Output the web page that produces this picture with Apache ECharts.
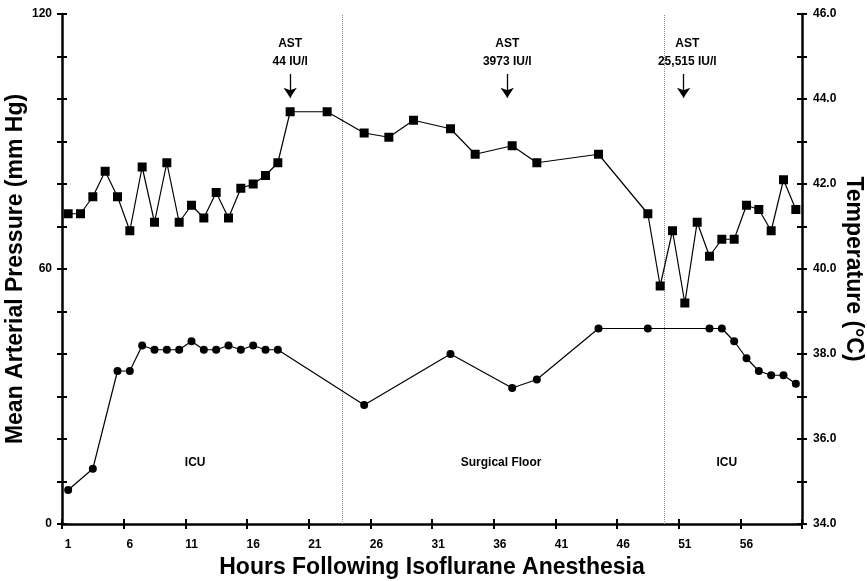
<!DOCTYPE html>
<html>
<head>
<meta charset="utf-8">
<script src="https://cdn.jsdelivr.net/npm/echarts@6/dist/echarts.min.js"></script>
<style>
html,body{margin:0;padding:0;background:#fff;}
#chart{width:867px;height:581px;}
</style>
</head>
<body>
<div id="chart"></div>
<script>
// Mean arterial pressure (squares, left axis)
const mapHours  = [1,2,3,4,5,6,7,8,9,10,11,12,13,14,15,16,17,18,19,22,25,27,29,32,34,37,39,44,48,49,50,51,52,53,54,55,56,57,58,59,60];
const mapValues = [73,73,77,83,77,69,84,71,85,71,75,72,78,72,79,80,82,85,97,97,92,91,95,93,87,89,85,87,73,56,69,52,71,63,67,67,75,74,69,81,74];
// Temperature (circles, right axis)
const tempHours  = [1,3,5,6,7,8,9,10,11,12,13,14,15,16,17,18,25,32,37,39,44,48,53,54,55,56,57,58,59,60];
const tempValues = [34.8,35.3,37.6,37.6,38.2,38.1,38.1,38.1,38.3,38.1,38.1,38.2,38.1,38.2,38.1,38.1,36.8,38.0,37.2,37.4,38.6,38.6,38.6,38.6,38.3,37.9,37.6,37.5,37.5,37.3];
// x-axis ticks / labels
const xTickValues  = [0.5,5.5,10.5,15.5,20.5,25.5,30.5,35.5,40.5,45.5,50.5,55.5,60.5];
const xLabelValues = [1,6,11,16,21,26,31,36,41,46,51,56];
// location change dividers (hours)
const dividerHours = [23.2, 49.3];
// AST annotations
const astHours = [19, 36.6, 50.9];
const astLabelHours = [19, 36.6, 51.2];
const astLabels = ['AST\n44 IU/l', 'AST\n3973 IU/l', 'AST\n25,515 IU/l'];
const astArrowTop = 105.9, astArrowTip = 100.3, astTextLevel = 110.8;
// location labels
const regionNames = ['ICU', 'Surgical Floor', 'ICU'];
const regionHours = [11.3, 36.1, 54.4];
const regionLevel = 14.4;

const FONT = 'Liberation Sans, Arial, sans-serif';
const chart = echarts.init(document.getElementById('chart'), null, {renderer: 'canvas'});

const axisLineStyle = {color: '#000', width: 2.5};
const tickStyle = {color: '#000', width: 2};
const titleStyle = {fontFamily: FONT, fontWeight: 'bold', fontSize: 23, color: '#000'};
const labelStyle = {fontFamily: FONT, fontWeight: 'bold', fontSize: 12, color: '#000'};

const option = {
  animation: false,
  backgroundColor: '#fff',
  grid: {left: 62, right: 65, top: 14, bottom: 57, containLabel: false, outerBoundsMode: 'none'},
  xAxis: [{
    type: 'value', min: 0.5, max: 60.5,
    name: 'Hours Following Isoflurane Anesthesia',
    nameLocation: 'middle', nameGap: 32,
    nameTextStyle: titleStyle,
    axisLine: {show: true, lineStyle: axisLineStyle},
    axisTick: {show: true, length: 5, lineStyle: tickStyle, customValues: xTickValues},
    axisLabel: Object.assign({customValues: xLabelValues, margin: 15}, labelStyle),
    splitLine: {show: false}
  }, {
    // inner half of the crossing ticks
    type: 'value', min: 0.5, max: 60.5, position: 'bottom',
    axisLine: {show: false},
    axisTick: {show: true, inside: true, length: 5, lineStyle: tickStyle, customValues: xTickValues},
    axisLabel: {show: false},
    splitLine: {show: false}
  }],
  yAxis: [{
    type: 'value', min: 0, max: 120, interval: 10, position: 'left',
    name: 'Mean Arterial Pressure (mm Hg)',
    nameLocation: 'middle', nameGap: 35, nameMoveOverlap: false,
    nameTextStyle: titleStyle,
    axisLine: {show: true, lineStyle: axisLineStyle},
    axisTick: {show: true, length: 5, lineStyle: tickStyle},
    axisLabel: Object.assign({margin: 10, formatter: v => (v % 60 === 0 ? String(v) : '')}, labelStyle),
    splitLine: {show: false}
  }, {
    type: 'value', min: 34, max: 46, interval: 1, position: 'right',
    name: 'Temperature (\u00B0C)',
    nameLocation: 'middle', nameGap: 40, nameRotate: -90, nameMoveOverlap: false,
    nameTextStyle: titleStyle,
    axisLine: {show: true, lineStyle: axisLineStyle},
    axisTick: {show: true, length: 5, lineStyle: tickStyle},
    axisLabel: Object.assign({margin: 11, formatter: v => (Math.round(v) % 2 === 0 ? v.toFixed(1) : '')}, labelStyle),
    splitLine: {show: false}
  }, {
    type: 'value', min: 0, max: 120, interval: 10, position: 'left',
    axisLine: {show: false},
    axisTick: {show: true, inside: true, length: 5, lineStyle: tickStyle},
    axisLabel: {show: false}, splitLine: {show: false}
  }, {
    type: 'value', min: 34, max: 46, interval: 1, position: 'right',
    axisLine: {show: false},
    axisTick: {show: true, inside: true, length: 5, lineStyle: tickStyle},
    axisLabel: {show: false}, splitLine: {show: false}
  }],
  series: [{
    name: 'MAP', type: 'line', yAxisIndex: 0,
    data: mapHours.map((h, i) => [h, mapValues[i]]),
    symbol: 'rect', symbolSize: 9,
    itemStyle: {color: '#000'},
    lineStyle: {color: '#000', width: 1.2},
    z: 5,
    markLine: {
      silent: true, symbol: 'none', animation: false,
      label: {show: false},
      lineStyle: {type: 'dotted', color: '#8a8a8a', width: 1},
      data: dividerHours.map(h => ({xAxis: h}))
    }
  }, {
    name: 'Temperature', type: 'line', yAxisIndex: 1,
    data: tempHours.map((h, i) => [h, tempValues[i]]),
    symbol: 'circle', symbolSize: 8,
    itemStyle: {color: '#000'},
    lineStyle: {color: '#000', width: 1.2},
    z: 5
  }, {
    name: 'annotations', type: 'line', yAxisIndex: 0, data: [],
    markLine: {
      silent: true, symbol: ['none', 'arrow'], symbolSize: 10, animation: false,
      label: {show: false},
      lineStyle: {type: 'solid', color: '#000', width: 1.3},
      data: astHours.map(h => [{coord: [h, astArrowTop]}, {coord: [h, astArrowTip]}])
    },
    markPoint: {
      silent: true, animation: false, symbol: 'circle', symbolSize: 0,
      label: Object.assign({show: true, position: 'inside', lineHeight: 18, align: 'center'}, labelStyle),
      data: astLabelHours.map((h, i) => ({coord: [h, astTextLevel], value: astLabels[i], label: {formatter: astLabels[i]}}))
        .concat(regionHours.map((h, i) => ({coord: [h, regionLevel], value: regionNames[i], label: {formatter: regionNames[i]}})))
    }
  }]
};
chart.setOption(option);
</script>
</body>
</html>
